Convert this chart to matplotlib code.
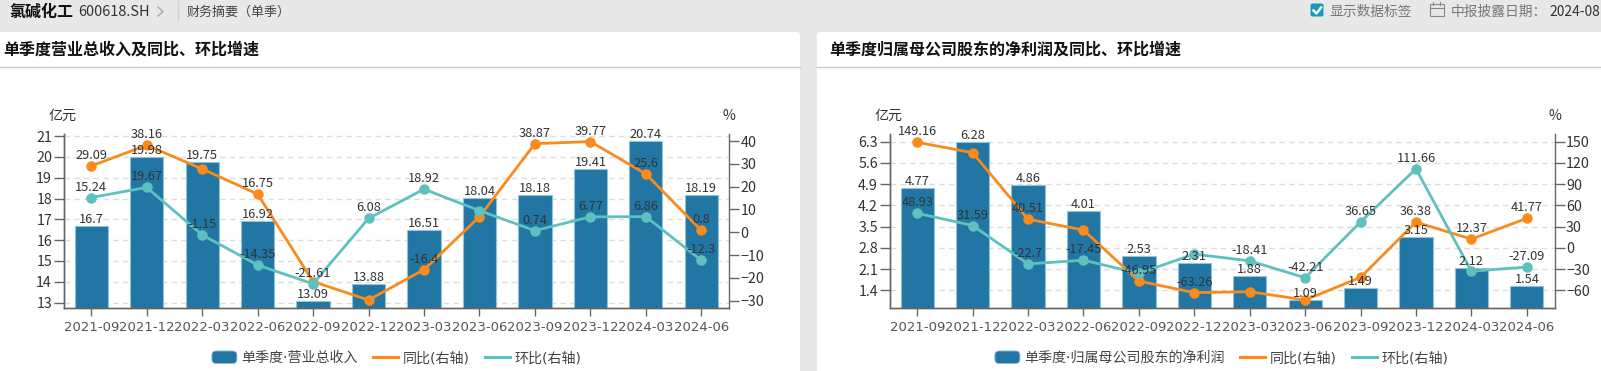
import matplotlib
matplotlib.use('Agg')
import matplotlib.pyplot as plt
from matplotlib.patches import Rectangle, FancyBboxPatch, Patch
from matplotlib.legend_handler import HandlerPatch
from matplotlib.lines import Line2D
import numpy as np

plt.rcParams['font.family'] = ['Noto Sans CJK SC', 'DejaVu Sans']

W, H = 1601, 371

quarters = ['2021-09', '2021-12', '2022-03', '2022-06', '2022-09', '2022-12',
            '2023-03', '2023-06', '2023-09', '2023-12', '2024-03', '2024-06']

rev = [16.7, 19.98, 19.75, 16.92, 13.09, 13.88, 16.51, 18.04, 18.18, 19.41, 20.74, 18.19]
rev_yoy = [29.09, 38.16, 27.8, 16.75, -21.61, -29.7, -16.4, 6.8, 38.87, 39.77, 25.6, 0.8]
rev_qoq = [15.24, 19.67, -1.15, -14.35, -22.6, 6.08, 18.92, 9.5, 0.74, 6.77, 6.86, -12.3]
# labels the source chart hides are None
rev_yoy_lab = [29.09, 38.16, None, 16.75, None, None, -16.4, None, 38.87, 39.77, 25.6, 0.8]
rev_qoq_lab = [15.24, 19.67, -1.15, -14.35, -21.61, 6.08, 18.92, None, 0.74, 6.77, 6.86, -12.3]

np_vals = [4.77, 6.28, 4.86, 4.01, 2.53, 2.31, 1.88, 1.09, 1.49, 3.15, 2.12, 1.54]
np_yoy = [149.16, 134.5, 40.51, 25.2, -46.95, -63.26, -62.0, -73.7, -41.7, 36.38, 12.37, 41.77]
np_qoq = [48.93, 31.59, -22.7, -17.45, -36.0, -8.8, -18.41, -42.21, 36.65, 111.66, -33.0, -27.09]
np_yoy_lab = [149.16, None, 40.51, None, -46.95, -63.26, None, None, None, 36.38, 12.37, 41.77]
np_qoq_lab = [48.93, 31.59, -22.7, -17.45, None, None, -18.41, -42.21, 36.65, 111.66, None, -27.09]

BAR = '#2176a3'
ORANGE = '#fb8a1c'
TEAL = '#5fc0c0'
AXC = '#666666'
TXT = '#333333'
LATIN_FIRST = ['DejaVu Sans', 'Noto Sans CJK SC']


def px(p):
    return p * 72 / 100


def round_swatch(legend, orig_handle, xdescent, ydescent, width, height, fontsize):
    return FancyBboxPatch((-xdescent + 2, -ydescent + 2), width - 4, height - 4,
                          boxstyle='round,pad=2,rounding_size=3')


def draw_chart(x0, x1, bars, yoy, qoq, yoy_lab, qoq_lab, ylim, y2lim, yt, y2t, yfmt, bar_name, leg_cx):
    ax = fig.add_axes([x0 / W, 1 - 308 / H, (x1 - x0) / W, 174 / H])
    ax.patch.set_alpha(0)
    pos = np.arange(len(quarters))
    ax.bar(pos, bars, width=0.6, color=BAR, edgecolor='#8fc3d8', linewidth=0.8, zorder=2)
    ax.set_xlim(-0.5, 11.5)
    ax.set_ylim(*ylim)
    ax.set_yticks(yt)
    ax.set_yticklabels([yfmt % v for v in yt])
    ax.set_xticks(pos)
    ax.set_xticklabels(quarters, family='DejaVu Sans')
    ax.yaxis.grid(True, color='#dddddd', linestyle=(0, (4, 3)), linewidth=1, zorder=0)
    ax.set_axisbelow(True)
    ax.spines['top'].set_visible(False)
    ax.spines['right'].set_visible(False)

    ax2 = ax.twinx()
    ax2.patch.set_alpha(0)
    ax2.set_ylim(*y2lim)
    ax2.set_yticks(y2t)
    ax2.spines['top'].set_visible(False)
    ax2.plot(pos, yoy, color=ORANGE, lw=2, marker='o', ms=px(10.5), mew=0, zorder=3)
    ax2.plot(pos, qoq, color=TEAL, lw=2, marker='o', ms=px(10.5), mew=0, zorder=4)

    for a in (ax, ax2):
        for s in a.spines.values():
            s.set_color(AXC)
            s.set_linewidth(1)
        a.tick_params(axis='y', color=AXC, length=px(10), width=1, labelcolor=TXT,
                      labelsize=px(14.3), pad=px(1.5))
    ax.tick_params(axis='x', color=AXC, length=px(8), width=1, labelcolor='#555555',
                   labelsize=px(13.3), pad=px(5))

    for i, v in enumerate(bars):
        ax2.annotate(str(v), (i, ax2.transData.inverted().transform(ax.transData.transform((i, v)))[1]),
                     xytext=(0, 0), textcoords='offset points', ha='center', va='bottom',
                     fontsize=px(12.8), color=TXT, zorder=6)
    for vals, labs in ((yoy, yoy_lab), (qoq, qoq_lab)):
        for i, (v, l) in enumerate(zip(vals, labs)):
            if l is None:
                continue
            ax2.annotate(str(l), (i, v), xytext=(0, px(4)), textcoords='offset points',
                         ha='center', va='bottom', fontsize=px(12.8), color=TXT, zorder=6)

    fig.text((x0 - 14.5) / W, 1 - 116 / H, '亿元', fontsize=px(14), color=TXT, ha='left', va='center')
    fig.text((x1 - 6.5) / W, 1 - 116 / H, '%', fontsize=px(14), color=TXT, ha='left', va='center')

    handles = [Patch(facecolor=BAR, edgecolor='#8fc3d8', linewidth=0.6),
               Line2D([], [], color=ORANGE, lw=2.2),
               Line2D([], [], color=TEAL, lw=2.2)]
    ax.legend(handles, [bar_name, '同比(右轴)', '环比(右轴)'], ncol=3, loc='center',
              bbox_to_anchor=(leg_cx / W, 1 - 358 / H), bbox_transform=fig.transFigure,
              frameon=False, prop={'family': LATIN_FIRST, 'size': px(14)},
              labelcolor='#444444', handlelength=1.79, handleheight=1.0, handletextpad=0.33,
              columnspacing=1.07, borderpad=0, borderaxespad=0,
              handler_map={Patch: HandlerPatch(patch_func=round_swatch)})


fig = plt.figure(figsize=(W / 100, H / 100), dpi=100, facecolor='#e8e8e8')

# white cards and header rules
bg = fig.add_axes([0, 0, 1, 1], zorder=-1)
bg.set_xlim(0, W)
bg.set_ylim(H, 0)
bg.axis('off')
bg.add_patch(FancyBboxPatch((-10, 32), 810, 400, boxstyle='round,pad=0,rounding_size=4', fc='white', ec='none'))
bg.add_patch(FancyBboxPatch((817, 32), 800, 400, boxstyle='round,pad=0,rounding_size=4', fc='white', ec='none'))
bg.plot([0, 800], [67, 67], color='#cccccc', lw=1)
bg.plot([817, W], [67, 67], color='#cccccc', lw=1)
bg.plot([177.5, 177.5], [1, 20], color='#cfcfcf', lw=1)
# chevron, checkbox, calendar
bg.plot([158, 163, 158], [7, 11.5, 16], color='#a8a8a8', lw=1)
bg.add_patch(FancyBboxPatch((1311.5, 4.5), 11, 11, boxstyle='round,pad=1,rounding_size=2', fc='#149bb8', ec='none'))
bg.plot([1313.5, 1316.5, 1321], [10.5, 13.5, 7.5], color='white', lw=1.8)
bg.add_patch(Rectangle((1429.5, 4), 14, 12, fc='none', ec='#888888', lw=0.8))
bg.plot([1429.5, 1443.5], [7.5, 7.5], color='#888888', lw=0.8)
bg.plot([1433, 1433], [2, 5], color='#888888', lw=0.8)
bg.plot([1440, 1440], [2, 5], color='#888888', lw=0.8)

fig.text(9 / W, 1 - 12 / H, '氯碱化工', fontsize=px(16), fontweight='bold', color='#111111', va='center')
fig.text(78 / W, 1 - 12 / H, '600618.SH', fontsize=px(14.5), color='#333333', va='center')
fig.text(187 / W, 1 - 12 / H, '财务摘要（单季）', fontsize=px(13), color='#444444', va='center')
fig.text(1329 / W, 1 - 12 / H, '显示数据标签', fontsize=px(13.8), color='#777777', va='center')
fig.text(1451 / W, 1 - 12 / H, '中报披露日期：', fontsize=px(13.8), color='#777777', va='center')
fig.text(1549 / W, 1 - 12 / H, '2024-08', fontsize=px(13.8), color='#333333', va='center')
fig.text(3.5 / W, 1 - 50 / H, '单季度营业总收入及同比、环比增速', fontsize=px(16), fontweight='bold', color='#111111', va='center')
fig.text(829 / W, 1 - 50 / H, '单季度归属母公司股东的净利润及同比、环比增速', fontsize=px(16), fontweight='bold', color='#111111', va='center')

draw_chart(63.5, 729, rev, rev_yoy, rev_qoq, rev_yoy_lab, rev_qoq_lab,
           (12.74, 21.1), (-33.2, 43.1), list(range(13, 22)),
           [-30, -20, -10, 0, 10, 20, 30, 40], '%d', '单季度·营业总收入', 396.5)
draw_chart(889.5, 1554.5, np_vals, np_yoy, np_qoq, np_yoy_lab, np_qoq_lab,
           (0.816, 6.554), (-85, 160.9), [1.4, 2.1, 2.8, 3.5, 4.2, 4.9, 5.6, 6.3],
           [-60, -30, 0, 30, 60, 90, 120, 150], '%.1f', '单季度·归属母公司股东的净利润', 1221.5)

fig.savefig('out.png', dpi=100, facecolor=fig.get_facecolor())
